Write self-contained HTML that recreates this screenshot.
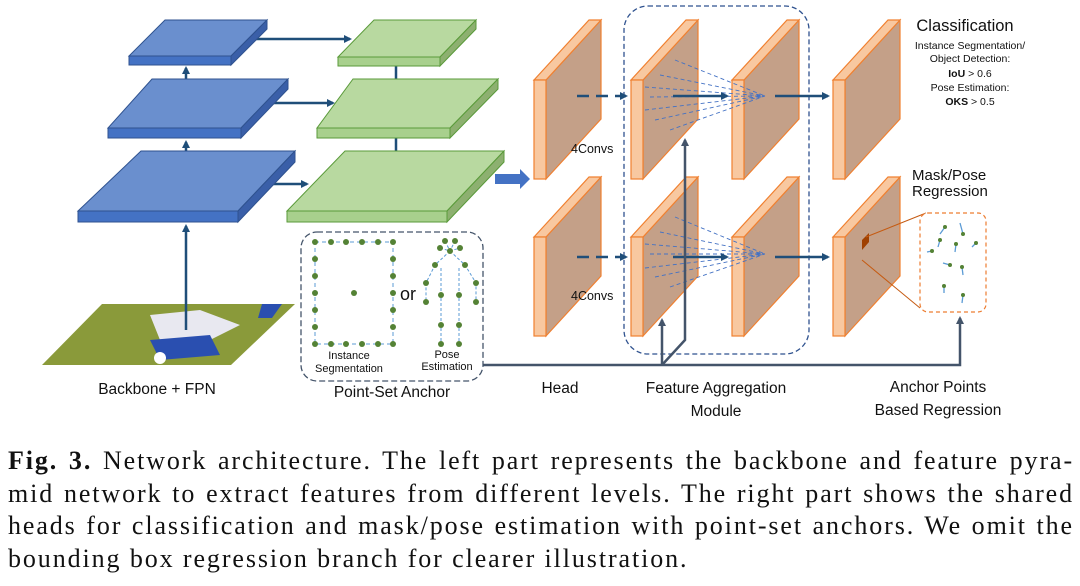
<!DOCTYPE html>
<html><head><meta charset="utf-8"><style>
body{margin:0;width:1080px;height:586px;background:#fff;overflow:hidden;position:relative}
.cap{position:absolute;left:8px;width:1066px;top:445px;font-family:"Liberation Serif",serif;font-size:26px;letter-spacing:1.9px;line-height:32.5px;text-align:justify;color:#111}
.cap span{display:block;text-align-last:justify;white-space:nowrap}
.cap span.l{text-align-last:left}
</style></head><body>
<svg width="1080" height="420" style="position:absolute;left:0;top:0" font-family="Liberation Sans, sans-serif">
<defs>
<marker id="ah" markerWidth="8" markerHeight="8" refX="6" refY="4" orient="auto" markerUnits="userSpaceOnUse"><path d="M0,0 L8,4 L0,8 z" fill="#1f4e79"/></marker>
<marker id="ag" markerWidth="8" markerHeight="8" refX="6" refY="4" orient="auto" markerUnits="userSpaceOnUse"><path d="M0,0 L8,4 L0,8 z" fill="#44546a"/></marker>
<g id="p"><polygon points="12,0 67,-60 67,39 12,99" fill="#c4a088"/><polygon points="0,0 55,-60 67,-60 12,0" fill="#f8c8a0"/><rect x="0" y="0" width="12" height="99" fill="#f8c8a0"/></g>
</defs>
<!-- image -->
<polygon points="102,304 295,304 231,365 42,365" fill="#8a9a3a"/>
<polygon points="150,315 200,310 240,325 200,345 160,340" fill="#e8e8f0"/>
<polygon points="150,340 210,335 220,355 160,360" fill="#2a4fb0"/>
<circle cx="160" cy="358" r="6" fill="#fff"/>
<polygon points="262,304 282,304 272,318 258,318" fill="#2a4fb0"/>
<g stroke="#1f4e79" stroke-width="2.5" fill="none" marker-end="url(#ah)">
<line x1="186" y1="330" x2="186" y2="226"/>
<line x1="186" y1="176" x2="186" y2="142"/>
<line x1="186" y1="104" x2="186" y2="68"/>
<line x1="253" y1="39" x2="350" y2="39"/>
<line x1="267" y1="103" x2="333" y2="103"/>
<line x1="270" y1="184" x2="307" y2="184"/>
<line x1="396" y1="66" x2="396" y2="98"/>
<line x1="396" y1="138" x2="396" y2="170"/>
</g>
<g stroke="#2f528f" stroke-width="1">
<polygon points="165,20 267,20 231,56 129,56" fill="#6a8fce"/><rect x="129" y="56" width="102" height="9" fill="#4472c4"/><polygon points="231,56 267,20 267,29 231,65" fill="#3a5fa8"/>
<polygon points="152,79 288,79 241,128 108,128" fill="#6a8fce"/><rect x="108" y="128" width="133" height="10" fill="#4472c4"/><polygon points="241,128 288,79 288,89 241,138" fill="#3a5fa8"/>
<polygon points="141,151 295,151 238,211 78,211" fill="#6a8fce"/><rect x="78" y="211" width="160" height="11" fill="#4472c4"/><polygon points="238,211 295,151 295,162 238,222" fill="#3a5fa8"/>
</g>
<g stroke="#5a9a3a" stroke-width="1">
<polygon points="374,20 476,20 440,57 338,57" fill="#b8d9a0"/><rect x="338" y="57" width="102" height="9" fill="#a8d08d"/><polygon points="440,57 476,20 476,29 440,66" fill="#8db070"/>
<polygon points="353,79 498,79 450,128 317,128" fill="#b8d9a0"/><rect x="317" y="128" width="133" height="10" fill="#a8d08d"/><polygon points="450,128 498,79 498,89 450,138" fill="#8db070"/>
<polygon points="345,151 504,151 447,211 287,211" fill="#b8d9a0"/><rect x="287" y="211" width="160" height="11" fill="#a8d08d"/><polygon points="447,211 504,151 504,162 447,222" fill="#8db070"/>
</g>
<polygon points="495,174 520,174 520,169 530,179 520,189 520,184 495,184" fill="#4472c4"/>
<rect x="301" y="232" width="182" height="149" rx="16" fill="none" stroke="#44546a" stroke-width="1.3" stroke-dasharray="6,3"/>
<rect x="315" y="242" width="78" height="102" fill="none" stroke="#5b9bd5" stroke-width="1" stroke-dasharray="4,3"/>
<g fill="#548235">
<circle cx="315" cy="242" r="3"/><circle cx="331" cy="242" r="3"/><circle cx="346" cy="242" r="3"/><circle cx="362" cy="242" r="3"/><circle cx="378" cy="242" r="3"/><circle cx="393" cy="242" r="3"/>
<circle cx="315" cy="344" r="3"/><circle cx="331" cy="344" r="3"/><circle cx="346" cy="344" r="3"/><circle cx="362" cy="344" r="3"/><circle cx="378" cy="344" r="3"/><circle cx="393" cy="344" r="3"/>
<circle cx="315" cy="259" r="3"/><circle cx="315" cy="276" r="3"/><circle cx="315" cy="293" r="3"/><circle cx="315" cy="310" r="3"/><circle cx="315" cy="327" r="3"/>
<circle cx="393" cy="259" r="3"/><circle cx="393" cy="276" r="3"/><circle cx="393" cy="293" r="3"/><circle cx="393" cy="310" r="3"/><circle cx="393" cy="327" r="3"/>
<circle cx="354" cy="293" r="3"/>
</g>
<g stroke="#5b9bd5" stroke-width="1" stroke-dasharray="3,2" fill="none">
<path d="M445,241 L450,251 L455,241 M440,248 L450,251 L460,248 M450,251 L435,265 L426,283 L426,302 M450,251 L465,265 L476,283 L476,302 M441,268 L441,295 L441,320 L441,344 M459,268 L459,295 L459,320 L459,344"/>
</g>
<g fill="#548235">
<circle cx="445" cy="241" r="3"/><circle cx="455" cy="241" r="3"/><circle cx="440" cy="248" r="3"/><circle cx="460" cy="248" r="3"/><circle cx="450" cy="251" r="3"/>
<circle cx="435" cy="265" r="3"/><circle cx="465" cy="265" r="3"/><circle cx="426" cy="283" r="3"/><circle cx="476" cy="283" r="3"/><circle cx="426" cy="302" r="3"/><circle cx="476" cy="302" r="3"/>
<circle cx="441" cy="295" r="3"/><circle cx="459" cy="295" r="3"/><circle cx="441" cy="325" r="3"/><circle cx="459" cy="325" r="3"/><circle cx="441" cy="344" r="3"/><circle cx="459" cy="344" r="3"/>
</g>
<text x="400" y="300" font-size="18" fill="#111">or</text>
<text x="349" y="359" font-size="11" text-anchor="middle" fill="#111">Instance</text>
<text x="349" y="372" font-size="11" text-anchor="middle" fill="#111">Segmentation</text>
<text x="447" y="358" font-size="11" text-anchor="middle" fill="#111">Pose</text>
<text x="447" y="370" font-size="11" text-anchor="middle" fill="#111">Estimation</text>
<text x="157" y="394" font-size="15.5" text-anchor="middle" fill="#111">Backbone + FPN</text>
<text x="392" y="397" font-size="15.5" text-anchor="middle" fill="#111">Point-Set Anchor</text>
<rect x="624" y="6" width="185" height="348" rx="24" fill="none" stroke="#2f528f" stroke-width="1.3" stroke-dasharray="5,3"/>
<g stroke="#f08030" stroke-width="1.2">
<use href="#p" x="534" y="80"/><use href="#p" x="631" y="80"/><use href="#p" x="732" y="80"/><use href="#p" x="833" y="80"/>
<use href="#p" x="534" y="237"/><use href="#p" x="631" y="237"/><use href="#p" x="732" y="237"/><use href="#p" x="833" y="237"/>
</g>
<g stroke="#4472c4" stroke-width="0.9" stroke-dasharray="4,3" fill="none">
<path d="M675,60 L765,96 M660,75 L765,96 M645,87 L765,96 M650,97 L765,96 M645,110 L765,96 M655,120 L765,96 M670,130 L765,96"/>
<path d="M675,217 L765,254 M660,232 L765,254 M645,244 L765,254 M650,254 L765,254 M645,268 L765,254 M655,277 L765,254 M670,287 L765,254"/>
</g>
<g stroke="#1f4e79" stroke-width="2.5" fill="none">
<line x1="577" y1="96" x2="626" y2="96" stroke-dasharray="12,7" marker-end="url(#ah)"/>
<line x1="577" y1="257" x2="626" y2="257" stroke-dasharray="12,7" marker-end="url(#ah)"/>
<line x1="673" y1="96" x2="727" y2="96" marker-end="url(#ah)"/>
<line x1="673" y1="257" x2="727" y2="257" marker-end="url(#ah)"/>
<line x1="775" y1="96" x2="828" y2="96" marker-end="url(#ah)"/>
<line x1="775" y1="257" x2="828" y2="257" marker-end="url(#ah)"/>
</g>
<g stroke="#44546a" stroke-width="2.5" fill="none">
<polyline points="483,365 960,365 960,318" marker-end="url(#ag)"/>
<line x1="662" y1="365" x2="662" y2="320" marker-end="url(#ag)"/>
<polyline points="662,365 685,340 685,140" marker-end="url(#ag)"/>
</g>
<text x="571" y="153" font-size="12.5" fill="#111">4Convs</text>
<text x="571" y="300" font-size="12.5" fill="#111">4Convs</text>
<polygon points="862,240 869,233 869,242 862,250" fill="#a04000"/>
<line x1="866" y1="237" x2="926" y2="213" stroke="#c55a11" stroke-width="1"/>
<line x1="862" y1="260" x2="920" y2="308" stroke="#c55a11" stroke-width="1"/>
<rect x="920" y="213" width="66" height="99" rx="8" fill="#fff" stroke="#ed7d31" stroke-width="1.2" stroke-dasharray="4,3"/>
<g stroke="#5b9bd5" stroke-width="1.3">
<line x1="940" y1="234" x2="945" y2="227"/><line x1="960" y1="223" x2="963" y2="234"/><line x1="938" y1="247" x2="940" y2="240"/><line x1="955" y1="252" x2="956" y2="244"/><line x1="976" y1="243" x2="972" y2="247"/><line x1="927" y1="252" x2="932" y2="251"/><line x1="943" y1="263" x2="950" y2="265"/><line x1="963" y1="275" x2="962" y2="267"/><line x1="944" y1="293" x2="944" y2="286"/><line x1="962" y1="303" x2="963" y2="295"/>
</g>
<g fill="#548235">
<circle cx="945" cy="227" r="2"/><circle cx="963" cy="234" r="2"/><circle cx="940" cy="240" r="2"/><circle cx="956" cy="244" r="2"/><circle cx="976" cy="243" r="2"/><circle cx="932" cy="251" r="2"/><circle cx="950" cy="265" r="2"/><circle cx="962" cy="267" r="2"/><circle cx="944" cy="286" r="2"/><circle cx="963" cy="295" r="2"/>
</g>
<text x="965" y="31" font-size="16.5" text-anchor="middle" fill="#111">Classification</text>
<g font-size="10.5" text-anchor="middle" fill="#111">
<text x="970" y="49">Instance Segmentation/</text>
<text x="970" y="62">Object Detection:</text>
<text x="970" y="77"><tspan font-weight="bold">IoU</tspan> &gt; 0.6</text>
<text x="970" y="91">Pose Estimation:</text>
<text x="970" y="105"><tspan font-weight="bold">OKS</tspan> &gt; 0.5</text>
</g>
<text x="912" y="180" font-size="15" fill="#111">Mask/Pose</text>
<text x="912" y="196" font-size="15" fill="#111">Regression</text>
<text x="560" y="393" font-size="15.5" text-anchor="middle" fill="#111">Head</text>
<text x="716" y="393" font-size="15.5" text-anchor="middle" fill="#111">Feature Aggregation</text>
<text x="716" y="416" font-size="15.5" text-anchor="middle" fill="#111">Module</text>
<text x="938" y="392" font-size="15.5" text-anchor="middle" fill="#111">Anchor Points</text>
<text x="938" y="415" font-size="15.5" text-anchor="middle" fill="#111">Based Regression</text>
</svg>
<div class="cap"><span><b>Fig. 3.</b> Network architecture. The left part represents the backbone and feature pyra-</span><span>mid network to extract features from different levels. The right part shows the shared</span><span>heads for classification and mask/pose estimation with point-set anchors. We omit the</span><span class="l">bounding box regression branch for clearer illustration.</span></div>
</body></html>
